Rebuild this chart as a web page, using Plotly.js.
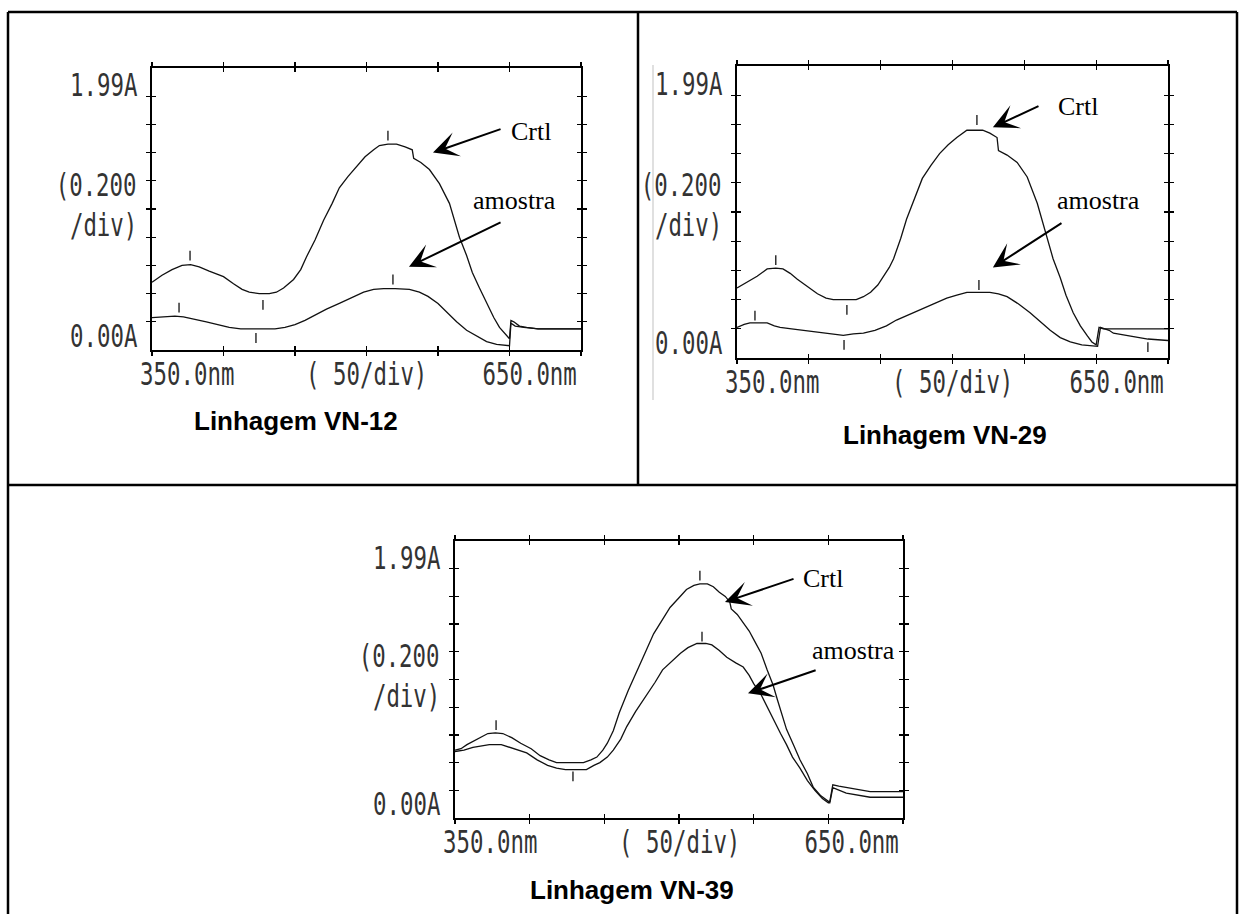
<!DOCTYPE html>
<html>
<head>
<meta charset="utf-8">
<script src="https://cdn.plot.ly/plotly-3.0.1.min.js"></script>
<style>
html,body{margin:0;padding:0;background:#fff;}
#chart{width:1244px;height:914px;}
</style>
</head>
<body>
<div id="chart"></div>
<script>
// ---------------- DATA ----------------
const wavelengthRange = [350, 650];          // nm
const absorbanceRange = [0, 2.0];            // A
const xTickVals = [350, 400, 450, 500, 550, 600, 650];
const yTickVals = [0.2, 0.4, 0.6, 0.8, 1.0, 1.2, 1.4, 1.6, 1.8];
const yTopLabel = '1.99A';
const yDivLabel1 = '(0.200';
const yDivLabel2 = '/div)';
const yBottomLabel = '0.00A';
const xLeftLabel = '350.0nm';
const xMidLabel = '(\u00a050/div)';
const xRightLabel = '650.0nm';
const panelTitles = ['Linhagem VN-12', 'Linhagem VN-29', 'Linhagem VN-39'];
const seriesNames = ['Crtl', 'amostra'];

// VN-12
const vn12CtrlX = [350,357,364,371,377,383,390,400,407,413,418,425,432,437,442,449,454,458,464,470,476,481,487,493,499,505,509,515,521,527,532,533,538,544,551,558,565,570,574,579,584,589,593,597,600,601,603,607,612,620,650];
const vn12CtrlY = [0.48,0.53,0.57,0.60,0.605,0.59,0.56,0.52,0.47,0.43,0.41,0.40,0.40,0.41,0.44,0.50,0.57,0.66,0.78,0.92,1.04,1.15,1.23,1.30,1.37,1.42,1.45,1.46,1.46,1.44,1.42,1.36,1.33,1.28,1.18,1.04,0.80,0.67,0.55,0.44,0.33,0.23,0.16,0.11,0.08,0.21,0.20,0.17,0.16,0.15,0.15];
const vn12AmosX = [350,358,366,372,380,388,396,404,412,420,428,436,443,450,457,464,472,481,490,498,505,512,520,530,537,543,550,556,563,570,577,584,591,598,600,601,604,610,620,650];
const vn12AmosY = [0.23,0.235,0.24,0.235,0.22,0.20,0.18,0.16,0.15,0.15,0.15,0.15,0.16,0.18,0.21,0.25,0.29,0.33,0.37,0.41,0.43,0.435,0.435,0.43,0.41,0.38,0.33,0.27,0.20,0.14,0.10,0.06,0.04,0.03,0.03,0.19,0.17,0.16,0.15,0.15];
const vn12MarkX = [376.6, 515, 427.6, 368.9, 518.5, 422.7];
const vn12MarkY = [0.67, 1.52, 0.32, 0.30, 0.50, 0.085];

// VN-29
const vn29CtrlX = [350,357,364,371,377,382,387,392,399,406,412,417,425,433,438,443,448,452,456,459,464,468,474,479,485,491,497,503,510,516,521,526,531,532,538,545,552,559,566,570,575,579,584,589,594,597,600,602,605,620,650];
const vn29CtrlY = [0.48,0.52,0.56,0.61,0.615,0.61,0.58,0.54,0.49,0.44,0.41,0.40,0.40,0.40,0.42,0.45,0.50,0.56,0.62,0.68,0.82,0.95,1.10,1.23,1.32,1.40,1.46,1.51,1.56,1.56,1.56,1.54,1.51,1.42,1.39,1.34,1.24,1.06,0.81,0.68,0.55,0.43,0.31,0.22,0.15,0.11,0.09,0.21,0.20,0.20,0.20];
const vn29AmosX = [350,355,359,366,371,376,380,388,396,403,410,417,424,431,438,446,454,461,468,475,482,489,496,503,510,518,526,532,538,546,554,561,568,575,582,590,598,601,603,609,612,620,624,636,650];
const vn29AmosY = [0.21,0.23,0.24,0.24,0.24,0.22,0.21,0.20,0.19,0.18,0.17,0.165,0.155,0.165,0.17,0.19,0.22,0.26,0.29,0.32,0.35,0.38,0.41,0.43,0.45,0.45,0.45,0.44,0.42,0.37,0.31,0.25,0.19,0.14,0.11,0.09,0.08,0.08,0.21,0.19,0.17,0.16,0.15,0.13,0.12];
const vn29MarkX = [377, 517, 426.5, 362.5, 518.4, 424.5, 636];
const vn29MarkY = [0.67, 1.63, 0.33, 0.29, 0.50, 0.09, 0.075];

// VN-39
const vn39CtrlX = [350,354,358,363,367,372,377,382,388,394,401,407,413,418,427,436,441,445,449,452,456,460,466,472,478,483,489,494,500,505,510,514,519,523,527,531,534,535,539,543,547,550,555,559,563,566,569,572,577,581,586,590,595,600,601,603,607,612,628,650];
const vn39CtrlY = [0.49,0.50,0.53,0.56,0.58,0.61,0.615,0.61,0.58,0.54,0.50,0.45,0.42,0.40,0.40,0.40,0.42,0.44,0.49,0.54,0.63,0.76,0.92,1.07,1.21,1.33,1.43,1.52,1.59,1.65,1.68,1.69,1.69,1.67,1.63,1.60,1.56,1.51,1.47,1.41,1.35,1.29,1.19,1.07,0.96,0.85,0.74,0.64,0.52,0.42,0.32,0.22,0.16,0.12,0.12,0.24,0.23,0.22,0.19,0.19];
const vn39AmosX = [350,356,362,367,373,381,387,393,398,405,412,418,424,431,438,443,447,452,456,461,465,471,478,484,489,495,501,506,512,518,522,527,532,538,543,547,550,555,559,564,568,572,576,581,586,591,596,600,601,603,607,612,628,650];
const vn39AmosY = [0.48,0.49,0.51,0.52,0.53,0.53,0.51,0.49,0.47,0.42,0.38,0.36,0.35,0.35,0.35,0.38,0.40,0.44,0.49,0.57,0.66,0.77,0.88,0.98,1.07,1.13,1.19,1.23,1.26,1.26,1.25,1.21,1.16,1.12,1.09,1.03,0.97,0.89,0.80,0.70,0.61,0.53,0.44,0.36,0.27,0.20,0.14,0.11,0.11,0.22,0.20,0.18,0.15,0.15];
const vn39MarkX = [377.5, 514, 515.4, 429];
const vn39MarkY = [0.67, 1.75, 1.31, 0.30];

// Annotation anchor points (nm, A): [tipX, tipY, tailX, tailY], label [x, y]
const vn12CtrlArrow = [546.5, 1.40, 594.8, 1.57];
const vn12AmosArrow = [529.7, 0.59, 594.8, 0.91];
const vn12CtrlLabel = [615.0, 1.55];
const vn12AmosLabel = [603.8, 1.06];
const vn29CtrlArrow = [528.1, 1.58, 560.9, 1.73];
const vn29AmosArrow = [528.1, 0.62, 576.9, 0.93];
const vn29CtrlLabel = [587.3, 1.72];
const vn29AmosLabel = [601.9, 1.08];
const vn39CtrlArrow = [530.8, 1.56, 577.7, 1.73];
const vn39AmosArrow = [546.2, 0.90, 592.5, 1.07];
const vn39CtrlLabel = [596.5, 1.73];
const vn39AmosLabel = [616.6, 1.21];

// ---------------- LAYOUT / STYLE ----------------
const W = 1244, H = 914;
const px = v => v / W;
const py = v => 1 - v / H;

const dotFont = {family: '"DejaVu Sans Mono", "Liberation Mono", monospace', size: 32, color: '#333'};
const dotStretch = 0.70;   // horizontal condensing of the instrument's printer font
const serifFont = {family: '"Liberation Serif", "Times New Roman", serif', size: 26, color: '#000'};
const titleFont = {family: '"Liberation Sans", Arial, Helvetica, sans-serif', size: 26, color: '#000'};

const panels = [
  {n: '', on: '4', dx: [px(152), px(581)], dy: [py(350), py(68)], ctrl: [vn12CtrlX, vn12CtrlY], amos: [vn12AmosX, vn12AmosY], marks: [vn12MarkX, vn12MarkY],
   ca: vn12CtrlArrow, aa: vn12AmosArrow, cl: vn12CtrlLabel, al: vn12AmosLabel, title: panelTitles[0], tpos: [296, 421], divc: 0.514},
  {n: '2', on: '5', dx: [px(737), px(1168)], dy: [py(358), py(66)], ctrl: [vn29CtrlX, vn29CtrlY], amos: [vn29AmosX, vn29AmosY], marks: [vn29MarkX, vn29MarkY],
   ca: vn29CtrlArrow, aa: vn29AmosArrow, cl: vn29CtrlLabel, al: vn29AmosLabel, title: panelTitles[1], tpos: [945, 435], divc: 0.524},
  {n: '3', on: '6', dx: [px(455), px(903)], dy: [py(818), py(541)], ctrl: [vn39CtrlX, vn39CtrlY], amos: [vn39AmosX, vn39AmosY], marks: [vn39MarkX, vn39MarkY],
   ca: vn39CtrlArrow, aa: vn39AmosArrow, cl: vn39CtrlLabel, al: vn39AmosLabel, title: panelTitles[2], tpos: [632, 890], divc: 0.511}
];

const data = [];
const layout = {
  width: W, height: H,
  margin: {l: 0, r: 0, t: 0, b: 0},
  paper_bgcolor: '#fff', plot_bgcolor: 'rgba(0,0,0,0)',
  showlegend: false,
  annotations: [],
  shapes: []
};

const lineStyle = {color: '#111', width: 1.3};
const dotIdx = [];   // indices of annotations drawn in the printer font

panels.forEach(p => {
  const xa = 'x' + p.n, ya = 'y' + p.n;
  const xo = 'x' + p.on, yo = 'y' + p.on;
  data.push({type: 'scatter', mode: 'lines', x: p.ctrl[0], y: p.ctrl[1], name: seriesNames[0], xaxis: xa, yaxis: ya, line: lineStyle, hoverinfo: 'skip'});
  data.push({type: 'scatter', mode: 'lines', x: p.amos[0], y: p.amos[1], name: seriesNames[1], xaxis: xa, yaxis: ya, line: lineStyle, hoverinfo: 'skip'});
  data.push({type: 'scatter', mode: 'markers', x: p.marks[0], y: p.marks[1], xaxis: xa, yaxis: ya, hoverinfo: 'skip',
             marker: {symbol: 'line-ns', size: 7, line: {width: 1.3, color: '#111'}}});
  data.push({type: 'scatter', mode: 'lines', x: [], y: [], xaxis: xo, yaxis: yo, hoverinfo: 'skip'});

  const baseX = {range: wavelengthRange, tickvals: xTickVals, showticklabels: false, showgrid: false, zeroline: false,
                 showline: true, linecolor: '#000', linewidth: 1.6, tickcolor: '#000', tickwidth: 1.2, ticklen: 4, mirror: 'ticks', fixedrange: true};
  const baseY = {range: absorbanceRange, tickvals: yTickVals, showticklabels: false, showgrid: false, zeroline: false,
                 showline: true, linecolor: '#000', linewidth: 1.6, tickcolor: '#000', tickwidth: 1.2, ticklen: 4, mirror: 'ticks', fixedrange: true};
  layout['xaxis' + p.n] = Object.assign({}, baseX, {domain: p.dx, anchor: ya, ticks: 'outside'});
  layout['yaxis' + p.n] = Object.assign({}, baseY, {domain: p.dy, anchor: xa, ticks: 'outside'});
  layout['xaxis' + p.on] = Object.assign({}, baseX, {overlaying: xa, anchor: yo, ticks: 'inside'});
  layout['yaxis' + p.on] = Object.assign({}, baseY, {overlaying: ya, anchor: xo, ticks: 'inside'});

  const xd = xa + ' domain', yd = ya + ' domain';
  const A = layout.annotations;
  const pushDot = a => { dotIdx.push(A.length); A.push(a); };
  // y-axis labels
  [[yTopLabel, 0.94, 0], [yDivLabel1, p.divc, 20], [yDivLabel2, p.divc, -20], [yBottomLabel, 0.05, 0]].forEach(([t, f, s]) => {
    pushDot({xref: xd, yref: yd, x: 0, y: f, xanchor: 'right', yanchor: 'middle', xshift: -13, yshift: s, text: t, showarrow: false, font: dotFont});
  });
  // x-axis labels
  pushDot({xref: xa, yref: yd, x: wavelengthRange[0], y: 0, xanchor: 'left', yanchor: 'middle', xshift: -14, yshift: -24, text: xLeftLabel, showarrow: false, font: dotFont});
  pushDot({xref: xa, yref: yd, x: xTickVals[3], y: 0, xanchor: 'center', yanchor: 'middle', yshift: -24, text: xMidLabel, showarrow: false, font: dotFont});
  pushDot({xref: xa, yref: yd, x: wavelengthRange[1], y: 0, xanchor: 'right', yanchor: 'middle', xshift: -2, yshift: -24, text: xRightLabel, showarrow: false, font: dotFont});
  // arrows
  [p.ca, p.aa].forEach(a => {
    A.push({xref: xa, yref: ya, axref: xa, ayref: ya, x: a[0], y: a[1], ax: a[2], ay: a[3], text: '', showarrow: true,
            arrowhead: 3, arrowsize: 2.1, arrowwidth: 2, arrowcolor: '#000', standoff: 0, startstandoff: 0});
  });
  A.push({xref: xa, yref: ya, x: p.cl[0], y: p.cl[1], text: seriesNames[0], showarrow: false, xanchor: 'center', yanchor: 'middle', font: serifFont});
  A.push({xref: xa, yref: ya, x: p.al[0], y: p.al[1], text: seriesNames[1], showarrow: false, xanchor: 'center', yanchor: 'middle', font: serifFont});
  // panel caption
  A.push({xref: 'paper', yref: 'paper', x: px(p.tpos[0]), y: py(p.tpos[1]), xanchor: 'center', yanchor: 'middle',
          text: '<b>' + p.title + '</b>', showarrow: false, font: titleFont});
});

// table frame
const border = {color: '#000', width: 2.5};
const S = layout.shapes;
S.push({type: 'line', xref: 'paper', yref: 'paper', x0: px(8), x1: px(1237), y0: py(12), y1: py(12), line: border});
S.push({type: 'line', xref: 'paper', yref: 'paper', x0: px(8), x1: px(8), y0: py(12), y1: py(914), line: border});
S.push({type: 'line', xref: 'paper', yref: 'paper', x0: px(1237), x1: px(1237), y0: py(12), y1: py(914), line: border});
S.push({type: 'line', xref: 'paper', yref: 'paper', x0: px(8), x1: px(1237), y0: py(485), y1: py(485), line: border});
S.push({type: 'line', xref: 'paper', yref: 'paper', x0: px(638), x1: px(638), y0: py(12), y1: py(485), line: border});
// faint scan edge in the VN-29 picture
S.push({type: 'line', xref: 'paper', yref: 'paper', x0: px(653), x1: px(653), y0: py(65), y1: py(400), line: {color: '#e0e0e0', width: 2}});

function condensePrinterText() {
  dotIdx.forEach(i => {
    const a = layout.annotations[i];
    const el = document.querySelector('#chart .annotation[data-index="' + i + '"] text.annotation-text');
    if (!el) return;
    const origin = a.xanchor === 'right' ? 'right' : (a.xanchor === 'left' ? 'left' : 'center');
    el.style.transformBox = 'fill-box';
    el.style.transformOrigin = origin + ' center';
    el.style.transform = 'scaleX(' + dotStretch + ')';
  });
}

Plotly.newPlot('chart', data, layout, {staticPlot: true, displayModeBar: false}).then(condensePrinterText);
condensePrinterText();
</script>
</body>
</html>
